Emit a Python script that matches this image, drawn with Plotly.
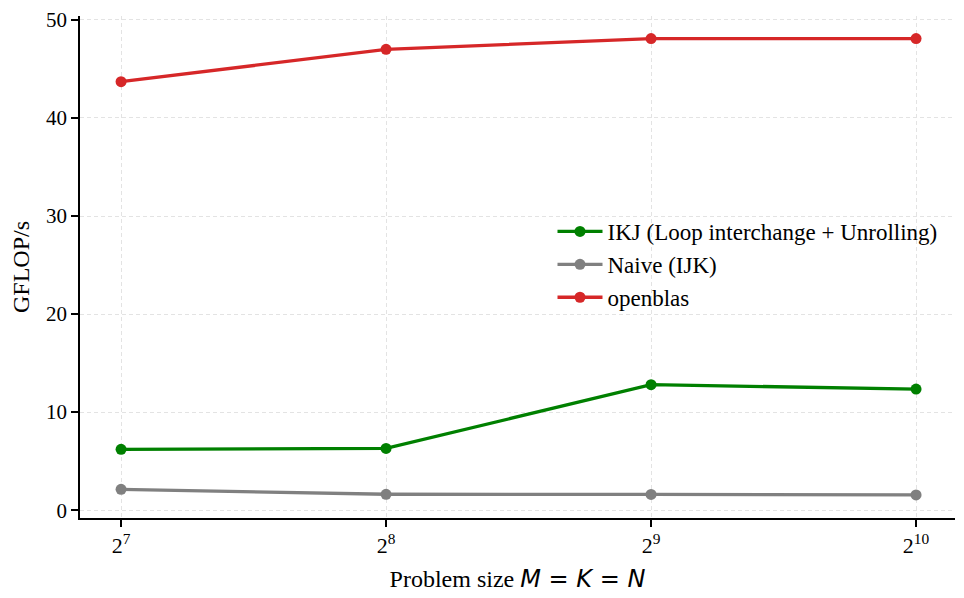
import plotly.graph_objects as go
import math

sizes = [128, 256, 512, 1024]
size_labels = ["2<sup>7</sup>", "2<sup>8</sup>", "2<sup>9</sup>", "2<sup>10</sup>"]
ikj = [6.2, 6.3, 12.8, 12.35]
naive = [2.12, 1.62, 1.6, 1.55]
openblas = [43.7, 47.0, 48.1, 48.1]

series = [
    ("IKJ (Loop interchange + Unrolling)", ikj, "#008000"),
    ("Naive (IJK)", naive, "#808080"),
    ("openblas", openblas, "#d62728"),
]

fig = go.Figure()
for name, vals, color in series:
    fig.add_trace(go.Scatter(
        x=sizes, y=vals, name=name, mode="lines+markers",
        line=dict(color=color, width=3.3),
        marker=dict(color=color, size=11),
    ))

font = "Liberation Serif"
fig.update_layout(
    width=964, height=598,
    margin=dict(l=72, r=17, t=8, b=88),
    paper_bgcolor="white", plot_bgcolor="white",
    font=dict(family=font, size=21, color="black"),
    showlegend=True,
    legend=dict(x=0.54, y=0.505, xanchor="left", yanchor="middle",
                bgcolor="rgba(255,255,255,0)", font=dict(size=23),
                itemwidth=45, tracegroupgap=0),
)
fig.update_xaxes(
    type="log", automargin=False, ticklabeloverflow="allow",
    range=[6.845 * math.log10(2), 10.147 * math.log10(2)],
    tickvals=sizes, ticktext=size_labels,
    showline=True, linecolor="black", linewidth=1.5,
    ticks="outside", ticklen=7, tickwidth=1.5, tickcolor="black",
    showgrid=True, gridcolor="#e3e3e3", griddash="4px,3px", gridwidth=1,
    zeroline=False, tickfont=dict(size=22),
    title=dict(text='Problem size <span style="font-family:DejaVu Sans"><i>M</i> = <i>K</i> = <i>N</i></span>',
               font=dict(size=24), standoff=13),
)
fig.update_yaxes(
    range=[-0.8, 50.4], automargin=False, ticklabeloverflow="allow",
    tickvals=[0, 10, 20, 30, 40, 50],
    showline=True, linecolor="black", linewidth=1.5,
    ticks="outside", ticklen=7, tickwidth=1.5, tickcolor="black",
    showgrid=True, gridcolor="#e3e3e3", griddash="4px,3px", gridwidth=1,
    zeroline=False, tickfont=dict(size=21),
    title=dict(text="GFLOP/s", font=dict(size=24), standoff=14),
)

fig.write_html("out.html")
